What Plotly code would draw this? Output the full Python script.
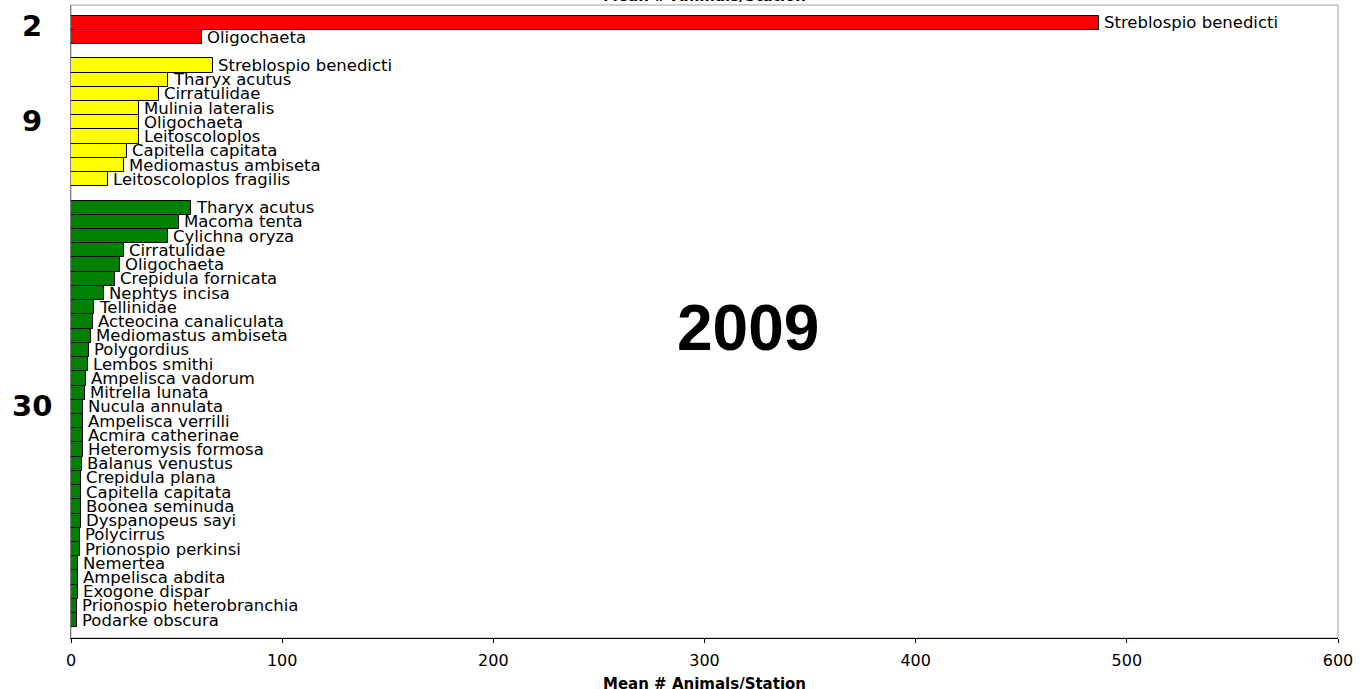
import plotly.graph_objects as go

# ---- data ----
red_species = ["Streblospio benedicti", "Oligochaeta"]
red_values = [487, 62]

yellow_species = ["Streblospio benedicti", "Tharyx acutus", "Cirratulidae",
                  "Mulinia lateralis", "Oligochaeta", "Leitoscoloplos",
                  "Capitella capitata", "Mediomastus ambiseta",
                  "Leitoscoloplos fragilis"]
yellow_values = [67.3, 46.1, 41.8, 32.0, 32.0, 32.0, 26.4, 25.1, 17.7]

green_species = ["Tharyx acutus", "Macoma tenta", "Cylichna oryza", "Cirratulidae",
                 "Oligochaeta", "Crepidula fornicata", "Nephtys incisa", "Tellinidae",
                 "Acteocina canaliculata", "Mediomastus ambiseta", "Polygordius",
                 "Lembos smithi", "Ampelisca vadorum", "Mitrella lunata",
                 "Nucula annulata", "Ampelisca verrilli", "Acmira catherinae",
                 "Heteromysis formosa", "Balanus venustus", "Crepidula plana",
                 "Capitella capitata", "Boonea seminuda", "Dyspanopeus sayi",
                 "Polycirrus", "Prionospio perkinsi", "Nemertea", "Ampelisca abdita",
                 "Exogone dispar", "Prionospio heterobranchia", "Podarke obscura"]
green_values = [57.0, 51.2, 46.0, 25.0, 23.2, 21.0, 15.8, 10.8, 10.3, 9.6, 8.7,
                8.2, 7.0, 6.8, 5.8, 5.8, 5.8, 5.9, 5.4, 4.6, 4.6, 4.6, 4.7, 4.1,
                4.1, 3.5, 3.5, 3.5, 3.0, 3.0]

group_labels = ["2", "9", "30"]
x_ticks = [0, 100, 200, 300, 400, 500, 600]
axis_title = "Mean # Animals/Station"
year_label = "2009"

# ---- layout of groups (one empty slot between groups) ----
groups = [
    (red_species, red_values, "#FF0000"),
    (yellow_species, yellow_values, "#FFFF00"),
    (green_species, green_values, "#008000"),
]

label_font = dict(family="DejaVu Sans", size=16.5, color="#000000")

fig = go.Figure()
annotations = []
start = 0
group_centers = []
for species, values, color in groups:
    pos = [start + i for i in range(len(species))]
    group_centers.append((pos[0] + pos[-1]) / 2)
    fig.add_trace(go.Bar(
        x=values, y=pos, orientation="h", width=1.0,
        marker=dict(color=color, line=dict(color="#000000", width=1)),
        showlegend=False, hoverinfo="skip",
    ))
    for s, v, p in zip(species, values, pos):
        annotations.append(dict(
            x=v, y=p, xref="x", yref="y", text=s, showarrow=False,
            xanchor="left", yanchor="middle", xshift=3, font=label_font,
        ))
    start = pos[-1] + 2

n_slots = start - 2
# group count labels
gshift = [4, 1, 8]
for lab, c, ys in zip(group_labels, group_centers, gshift):
    annotations.append(dict(
        x=0, y=c, xref="paper", yref="y", text=lab, showarrow=False,
        xanchor="center", yanchor="middle", xshift=-39, yshift=ys,
        font=dict(family="DejaVu Sans", size=29, color="#000000", weight="bold"),
    ))

# year label
annotations.append(dict(
    x=0.534, y=0.49, xref="paper", yref="paper", text=year_label, showarrow=False,
    xanchor="center", yanchor="middle",
    font=dict(family="Liberation Sans, Arial", size=64, color="#000000", weight="bold"),
))
# bottom axis title
annotations.append(dict(
    x=0.5, y=0, xref="paper", yref="paper", text=axis_title, showarrow=False,
    xanchor="center", yanchor="middle", yshift=-46,
    font=dict(family="DejaVu Sans", size=15, color="#000000", weight="bold"),
))
# top (cut-off) axis title
annotations.append(dict(
    x=0.5, y=1, xref="paper", yref="paper", text=axis_title, showarrow=False,
    xanchor="center", yanchor="middle", yshift=9,
    font=dict(family="DejaVu Sans", size=15, color="#000000", weight="bold"),
))

fig.update_layout(
    width=1363, height=689,
    margin=dict(l=71, r=25, t=5, b=51, pad=0),
    paper_bgcolor="white", plot_bgcolor="white",
    bargap=0, barmode="overlay",
    annotations=annotations,
    shapes=[dict(type="rect", xref="paper", yref="paper", x0=0, x1=1, y0=0, y1=1,
                 line=dict(color="#A0A0A0", width=1), layer="below")],
    xaxis=dict(
        range=[0, 600], tickvals=x_ticks, ticktext=[str(t) for t in x_ticks],
        showgrid=False, zeroline=False, showline=True, linecolor="#000000",
        linewidth=1, ticks="outside", ticklen=4, tickcolor="#000000",
        tickfont=dict(family="DejaVu Sans", size=16, color="#000000"),
        ticklabelstandoff=4,
    ),
    yaxis=dict(
        range=[n_slots + 1.25, -1.25], showticklabels=False, showgrid=False,
        zeroline=False, showline=True, linecolor="#808080", linewidth=1, ticks="",
    ),
)

fig.write_html(
    "out.html",
    config={"displayModeBar": False},
    post_script="document.body.style.margin='0';document.body.style.overflow='hidden';",
)
